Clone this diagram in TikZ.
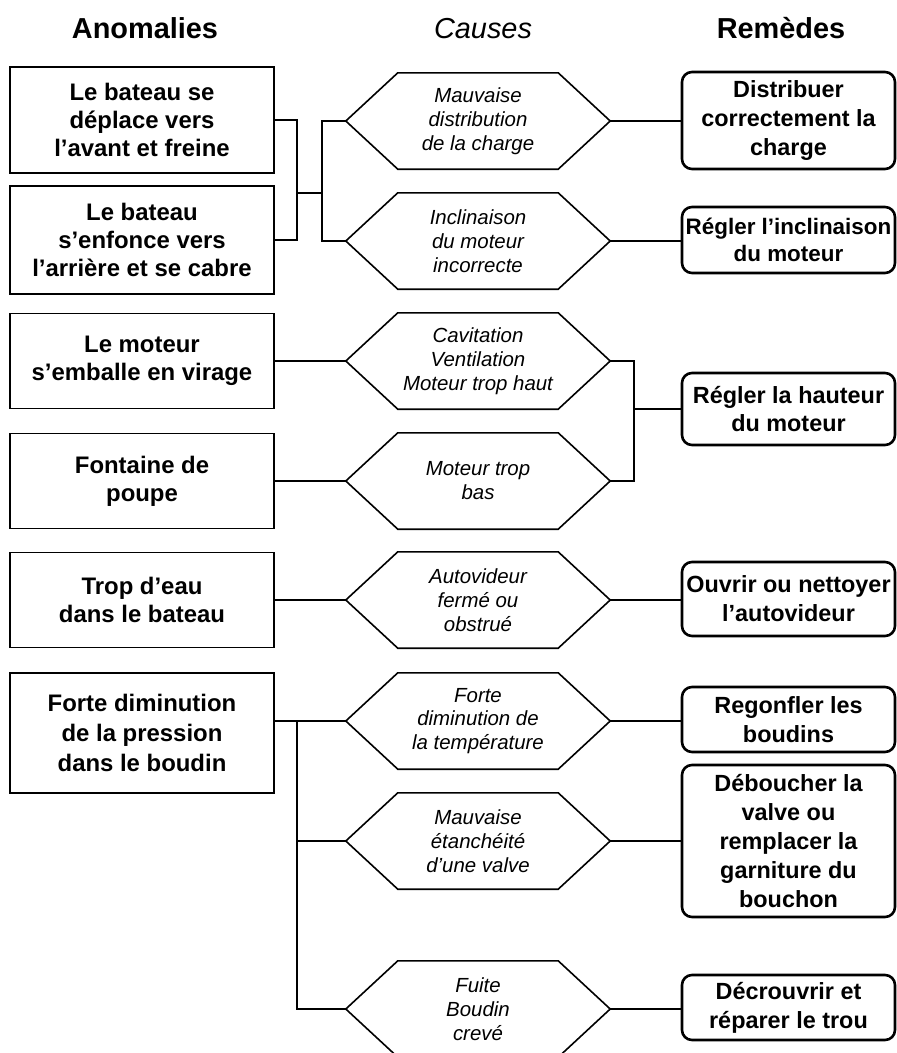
\documentclass[tikz,border=0pt]{standalone}
\usepackage{fontspec}
\setmainfont{Liberation Sans}
\begin{document}
\begin{tikzpicture}[x=1bp,y=-1bp,
  head/.style={inner sep=0pt, anchor=base, font=\fontsize{29}{34}\selectfont},
  anom/.style={draw, line width=1.6bp, minimum width=264bp, align=center, inner sep=0pt, font=\bfseries\fontsize{24}{28}\selectfont},
  cause/.style={minimum width=264bp, minimum height=96bp, inner sep=0pt, align=center, font=\itshape\fontsize{20.5}{24}\selectfont},
  hexline/.style={line width=1.6bp, line join=miter},
  remede/.style={draw, line width=2.6bp, rounded corners=10bp, minimum width=213bp, align=center, inner sep=0pt, font=\bfseries\fontsize{23.5}{29}\selectfont},
  link/.style={line width=1.6bp}]
\useasboundingbox (0,0) rectangle (897,1053);
\fill[white] (0,0) rectangle (897,1053);

% headers
\node[head, font=\bfseries\fontsize{29}{34}\selectfont] (T1) at (145,38) {Anomalies};
\node[head, font=\itshape\fontsize{29}{34}\selectfont] (T2) at (483,38) {Causes};
\node[head, font=\bfseries\fontsize{29}{34}\selectfont] (T3) at (781,38) {Remèdes};

% anomalies
\node[anom, minimum height=106bp] (A1) at (142,120) {Le bateau se\\déplace vers\\l’avant et freine};
\node[anom, minimum height=108bp] (A2) at (142,240) {Le bateau\\s’enfonce vers\\l’arrière et se cabre};
\node[anom, minimum height=95bp] (A3) at (142,361) {Le moteur\\s’emballe en virage};
\node[anom, minimum height=95bp] (A4) at (142,481) {Fontaine de\\poupe};
\node[anom, minimum height=95bp] (A5) at (142,600) {Trop d’eau\\dans le bateau};
\node[anom, minimum height=120bp, font=\bfseries\fontsize{24}{30.5}\selectfont] (A6) at (142,733) {Forte diminution\\de la pression\\dans le boudin};

% causes
\node[cause] (H1) at (478,121) {Mauvaise\\distribution\\de la charge};
\node[cause] (H2) at (478,241) {Inclinaison\\du moteur\\incorrecte};
\node[cause] (H3) at (478,361) {Cavitation\\Ventilation\\Moteur trop haut};
\node[cause] (H4) at (478,481) {Moteur trop\\bas};
\node[cause] (H5) at (478,600) {Autovideur\\fermé ou\\obstrué};
\node[cause] (H6) at (478,721) {Forte\\diminution de\\la température};
\node[cause] (H7) at (478,841) {Mauvaise\\étanchéité\\d’une valve};
\node[cause] (H8) at (478,1009) {Fuite\\Boudin\\crevé};
\foreach \n in {H1,H2,H3,H4,H5,H6,H7,H8}
  \draw[hexline] (\n.west) -- ([xshift=52bp]\n.north west) -- ([xshift=-52bp]\n.north east)
    -- (\n.east) -- ([xshift=-52bp]\n.south east) -- ([xshift=52bp]\n.south west) -- cycle;

% remedies
\node[remede, minimum height=97bp] (R1) at (788.5,120.5) {Distribuer\\correctement la\\charge};
\node[remede, minimum height=66bp, font=\bfseries\fontsize{22.5}{27}\selectfont] (R2) at (788.5,240) {Régler l’inclinaison\\du moteur};
\node[remede, minimum height=72bp] (R3) at (788.5,409) {Régler la hauteur\\du moteur};
\node[remede, minimum height=74bp] (R4) at (788.5,599) {Ouvrir ou nettoyer\\l’autovideur};
\node[remede, minimum height=65bp] (R5) at (788.5,719.5) {Regonfler les\\boudins};
\node[remede, minimum height=152bp] (R6) at (788.5,841) {Déboucher la\\valve ou\\remplacer la\\garniture du\\bouchon};
\node[remede, minimum height=65bp] (R7) at (788.5,1007.5) {Décrouvrir et\\réparer le trou};

% junctions
\coordinate (J1) at (297,193);
\coordinate (K1) at (322,193);
\coordinate (J2) at (634,409);
\coordinate (J3) at (297,721);

% connectors group 1
\draw[link] (A1.east) -| (J1);
\draw[link] (A2.east) -| (J1);
\draw[link] (J1) -- (K1);
\draw[link] (H1.west) -| (K1);
\draw[link] (H2.west) -| (K1);
\draw[link] (H1.east) -- (H1.east -| R1.west);
\draw[link] (H2.east) -- (H2.east -| R2.west);

% group 2
\draw[link] (A3.east) -- (H3.west);
\draw[link] (A4.east) -- (H4.west);
\draw[link] (H3.east) -| (J2);
\draw[link] (H4.east) -| (J2);
\draw[link] (J2) -- (R3.west);

% group 3
\draw[link] (A5.east) -- (H5.west);
\draw[link] (H5.east) -- (H5.east -| R4.west);

% group 4
\draw[link] (A6.east |- H6.west) -- (H6.west);
\draw[link] (J3) |- (H8.west);
\draw[link] (J3 |- H7.west) -- (H7.west);
\draw[link] (H6.east) -- (H6.east -| R5.west);
\draw[link] (H7.east) -- (R6.west);
\draw[link] (H8.east) -- (H8.east -| R7.west);
\end{tikzpicture}
\end{document}
